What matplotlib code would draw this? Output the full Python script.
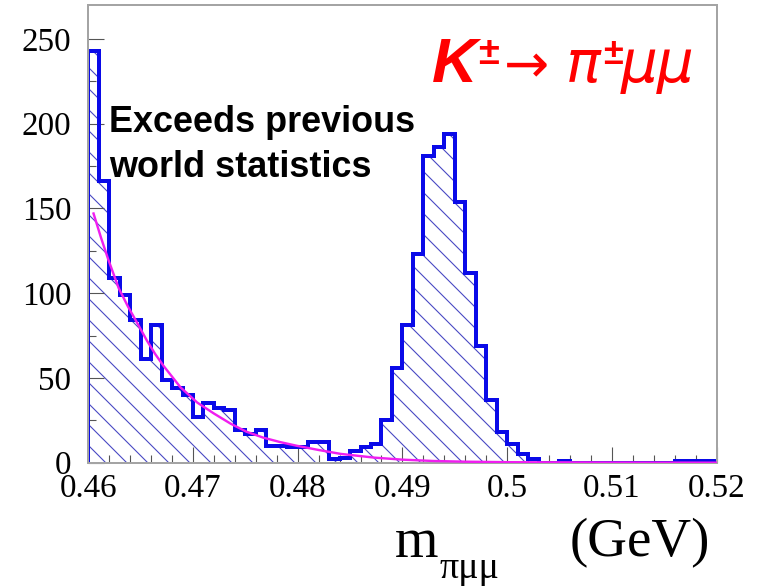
import matplotlib
matplotlib.use("Agg")
import matplotlib.pyplot as plt
import numpy as np

# figure is 765x586 px; DPI chosen so hatch spacing is close to the reference
DPI = 63
W, H = 765, 586


def px(v):
    """pixels -> points at this DPI"""
    return v * 72.0 / DPI


# histogram of m(pi mu mu), 1 MeV bins from 0.46 to 0.52 GeV
bin_lo = 0.46
bin_hi = 0.52
counts = [243, 166, 109, 99, 84, 61, 81, 49, 44, 40,
          27, 35, 32, 31, 19, 17, 19, 10, 10, 9,
          9, 12, 12, 2, 3, 7, 9, 11, 25, 56,
          81, 123, 181, 186, 194, 154, 112, 69, 37, 18,
          11, 5, 2, 0, 0, 1, 0, 0, 0, 0,
          0, 0, 0, 0, 0, 0, 1, 1, 1, 1]

# background fit curve
fit_m = [0.4605, 0.4612, 0.4619, 0.4629, 0.4638, 0.4648, 0.4656, 0.4664,
         0.4672, 0.4688, 0.4704, 0.4720, 0.4736, 0.4751, 0.4767, 0.4783,
         0.4799, 0.4820, 0.4841, 0.4873, 0.4900, 0.4930, 0.4960, 0.5000,
         0.5100, 0.5200]
fit_v = [147, 133, 120, 103, 92, 81, 72, 64,
         57, 44.5, 35.5, 29, 23, 18.3, 14.8, 12.2,
         10, 7.5, 5.2, 3.0, 1.8, 1.0, 0.6, 0.3,
         0.1, 0.0]

x_major = [0.46, 0.47, 0.48, 0.49, 0.50, 0.51, 0.52]
x_labels = ["0.46", "0.47", "0.48", "0.49", "0.5", "0.51", "0.52"]
y_major = [0, 50, 100, 150, 200, 250]

plt.rcParams["hatch.linewidth"] = px(1.1)

fig = plt.figure(figsize=(W / DPI, H / DPI), dpi=DPI)
ax = fig.add_axes([88.3 / W, 1 - 462.7 / H, (716.5 - 88.3) / W, (462.7 - 5) / H])

edges = np.linspace(bin_lo, bin_hi, len(counts) + 1)
vals = np.array(counts, dtype=float)

# hatched fill
ax.stairs(vals, edges, baseline=0, fill=True, hatch="\\",
          facecolor="none", edgecolor="#4848c4", linewidth=0, zorder=1)
# thick outline
ax.stairs(vals, edges, baseline=0, fill=False, color="#0a0ae8",
          linewidth=px(4), zorder=2)
# fit
ax.plot(fit_m, fit_v, color="#f01ef0", linewidth=px(2.4), zorder=3)

ax.set_xlim(bin_lo, bin_hi)
ax.set_ylim(0, 270)

ax.set_xticks(x_major)
ax.set_xticklabels(x_labels)
ax.set_xticks(np.arange(0.46, 0.5201, 0.002), minor=True)
ax.set_yticks(y_major)
ax.set_yticks(np.arange(0, 270, 25), minor=True)

frame_col = "#a4a4a4"
for s in ax.spines.values():
    s.set_color(frame_col)
    s.set_linewidth(px(2))

ax.tick_params(which="both", direction="in", color="#555555", width=px(1.1),
               top=False, right=False)
ax.tick_params(which="major", length=px(16))
ax.tick_params(which="minor", length=px(8))
ax.tick_params(axis="x", which="major", pad=px(11))
ax.tick_params(axis="y", which="major", pad=px(17))
for lbl in ax.get_xticklabels() + ax.get_yticklabels():
    lbl.set_fontfamily("Liberation Serif")
    lbl.set_fontsize(px(33))


def ftext(x, y, s, **kw):
    # x, y in pixels from top-left, y is the baseline
    fig.text(x / W, 1 - y / H, s, va="baseline", ha="left", **kw)


# axis title
ftext(395, 556.7, "m", family="Liberation Serif", fontsize=px(56))
ftext(440, 578, "πμμ", family="Liberation Serif", fontsize=px(38))
ftext(570, 556.7, "(GeV)", family="Liberation Serif", fontsize=px(55))

# annotation
ftext(109, 131.7, "Exceeds previous", family="Liberation Sans",
      fontweight="bold", fontsize=px(36))
ftext(109, 176.7, "world statistics", family="Liberation Sans",
      fontweight="bold", fontsize=px(36))

# decay label
red = "#ff0000"
ftext(432, 82, "K", family="Liberation Sans", fontweight="bold",
      style="italic", fontsize=px(63), color=red)
ftext(478, 64, "±", family="Liberation Sans", fontweight="bold",
      fontsize=px(38), color=red)
ftext(504, 82, "→", family="DejaVu Sans", fontsize=px(54), color=red)
ftext(566, 82, "π", family="DejaVu Sans", style="italic",
      fontsize=px(58), color=red)
ftext(603, 64, "±", family="Liberation Sans", fontweight="bold",
      fontsize=px(36), color=red)
ftext(621, 82, "μμ", family="DejaVu Sans", style="italic",
      fontsize=px(58), color=red)

fig.savefig("out.png", dpi=DPI)
